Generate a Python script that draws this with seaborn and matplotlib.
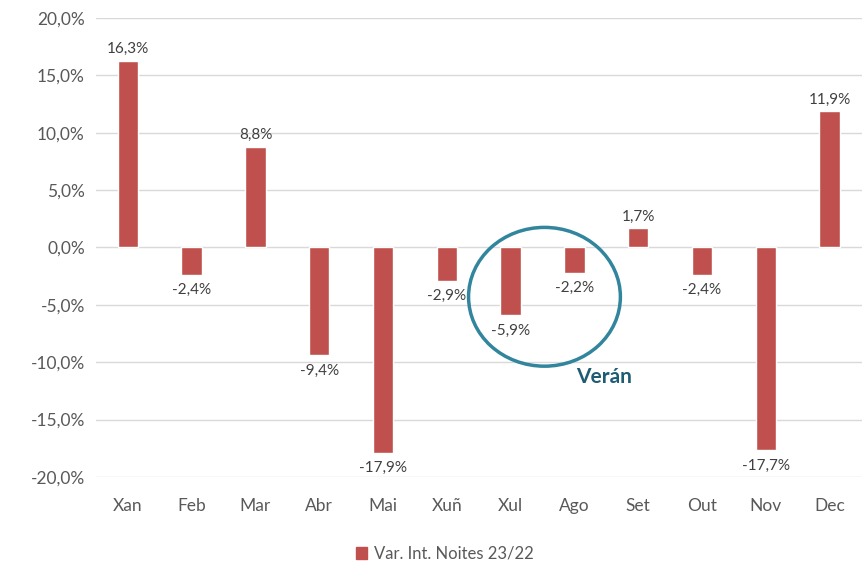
import pandas as pd
import seaborn as sns
import matplotlib.pyplot as plt
from matplotlib.patches import Ellipse, Patch
from matplotlib.ticker import FuncFormatter

meses = ["Xan", "Feb", "Mar", "Abr", "Mai", "Xuñ", "Xul", "Ago", "Set", "Out", "Nov", "Dec"]
variacion = [16.3, -2.4, 8.8, -9.4, -17.9, -2.9, -5.9, -2.2, 1.7, -2.4, -17.7, 11.9]
serie = "Var. Int. Noites 23/22"

sns.set_style("white")
plt.rcParams['font.family'] = ['Lato', 'DejaVu Sans']

df = pd.DataFrame({"mes": meses, "var": variacion})

fig = plt.figure(figsize=(8.67, 5.65), dpi=100)
ax = fig.add_axes([0.1107, 0.156, 0.883, 0.812])

rojo = "#C0504D"
sns.barplot(data=df, x="mes", y="var", color=rojo, width=0.32, ax=ax, saturation=1)

ax.set_ylim(-20, 20)
ax.set_yticks(range(-20, 21, 5))
ax.yaxis.set_major_formatter(FuncFormatter(lambda v, p: f"{v:.1f}%".replace(".", ",")))
ax.set_xlim(-0.5, len(meses) - 0.5)
ax.grid(axis="y", color="#D9D9D9", linewidth=1)
ax.set_axisbelow(True)
for s in ax.spines.values():
    s.set_visible(False)
ax.tick_params(axis="both", length=0, labelsize=12.5, labelcolor="#595959", pad=8)
ax.tick_params(axis="x", pad=15)
ax.set_xlabel("")
ax.set_ylabel("")

# etiquetas de datos
for i, v in enumerate(variacion):
    txt = f"{v:.1f}%".replace(".", ",")
    if v >= 0:
        ax.annotate(txt, (i, v), xytext=(0, 3), textcoords="offset points",
                    ha="center", va="bottom", fontsize=11, color="#404040")
    else:
        ax.annotate(txt, (i, v), xytext=(0, -6), textcoords="offset points",
                    ha="center", va="top", fontsize=11, color="#404040")

# verán
ax.add_patch(Ellipse((6.53, -4.3), 2.38, 12.1, fill=False, edgecolor="#31859C", linewidth=2.5))
ax.text(7.47, -11.3, "Verán", ha="center", va="center", fontsize=15,
        fontweight="bold", color="#1F5C73")

fig.legend(handles=[Patch(color=rojo, label=serie)], loc="center", bbox_to_anchor=(0.513, 0.02),
           frameon=False, fontsize=12, handlelength=0.7, handleheight=0.7, handletextpad=0.4,
           labelcolor="#595959")

fig.savefig("out.png", dpi=100)
